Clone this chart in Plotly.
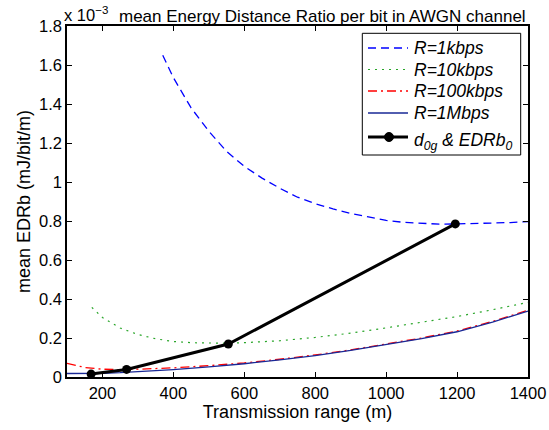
import plotly.graph_objects as go

# ---- data (EDRb in units of 1e-3 mJ/bit/m) ----
x_1k = [370, 400, 450, 500, 550, 600, 650, 700, 750, 800, 850, 900, 950, 1000,
        1050, 1100, 1150, 1200, 1250, 1300, 1350, 1400]
y_1k = [1.65, 1.535, 1.38, 1.26, 1.157, 1.08, 1.02, 0.968, 0.922, 0.889, 0.862,
        0.839, 0.821, 0.803, 0.793, 0.787, 0.784, 0.785, 0.787, 0.789, 0.792, 0.797]

x_10k = [170, 200, 250, 300, 350, 400, 450, 500, 550, 600, 700, 800, 900, 1000,
         1100, 1200, 1300, 1350, 1400]
y_10k = [0.357, 0.305, 0.251, 0.218, 0.196, 0.182, 0.176, 0.173, 0.173, 0.176,
         0.186, 0.203, 0.225, 0.252, 0.28, 0.31, 0.345, 0.363, 0.383]

x_100k = [100, 125, 150, 200, 250, 300, 400, 500, 600, 700, 800, 900, 1000,
          1100, 1200, 1300, 1400]
y_100k = [0.07, 0.058, 0.049, 0.04, 0.038, 0.04, 0.047, 0.058, 0.072, 0.091,
          0.113, 0.139, 0.168, 0.2, 0.236, 0.285, 0.342]

x_1M = [100, 150, 200, 250, 300, 400, 500, 600, 700, 800, 900, 1000, 1100,
        1200, 1300, 1350, 1400]
y_1M = [0.018, 0.017, 0.019, 0.022, 0.027, 0.038, 0.052, 0.068, 0.088, 0.11,
        0.136, 0.165, 0.197, 0.232, 0.281, 0.31, 0.338]

x_d0 = [168, 268, 555, 1195]
y_d0 = [0.015, 0.039, 0.169, 0.785]

series_names = ["<i>R=1kbps</i>", "<i>R=10kbps</i>", "<i>R=100kbps</i>",
                "<i>R=1Mbps</i>", "<i>d<sub>0g</sub> & EDRb<sub>0</sub></i>"]

x_ticks = [200, 400, 600, 800, 1000, 1200, 1400]
y_ticks = [0, 0.2, 0.4, 0.6, 0.8, 1.0, 1.2, 1.4, 1.6, 1.8]
y_ticktext = ["0", "0.2", "0.4", "0.6", "0.8", "1", "1.2", "1.4", "1.6", "1.8"]

FONT = "Liberation Sans, Arial, sans-serif"

styles = [
    dict(color="rgb(0,0,255)", width=1.3, dash="8px,5px"),
    dict(color="rgb(40,165,40)", width=1.2, dash="2px,5px"),
    dict(color="rgb(255,0,0)", width=1.3, dash="9px,4px,2px,4px"),
    dict(color="rgb(25,40,150)", width=1.3, dash="solid"),
    dict(color="black", width=3, dash="solid"),
]

fig = go.Figure()
for xs, ys, nm, st in zip([x_1k, x_10k, x_100k, x_1M], [y_1k, y_10k, y_100k, y_1M],
                          series_names[:4], styles[:4]):
    fig.add_trace(go.Scatter(x=xs, y=ys, mode="lines", name=nm, showlegend=False,
                             line=st))
fig.add_trace(go.Scatter(x=x_d0, y=y_d0, mode="lines+markers", name=series_names[4],
                         showlegend=False, line=styles[4],
                         marker=dict(color="black", size=9)))

axis_common = dict(showline=True, linecolor="black", linewidth=1.5, mirror="allticks",
                   ticks="inside", ticklen=5, tickcolor="black", tickwidth=1,
                   showgrid=False, zeroline=False, automargin=False,
                   tickfont=dict(family=FONT, size=16.5, color="black"))

fig.update_xaxes(range=[100, 1400], tickvals=x_ticks,
                 title=dict(text="Transmission range (m)", standoff=0,
                            font=dict(family=FONT, size=18, color="black")),
                 **axis_common)
fig.update_yaxes(range=[0, 1.8], tickvals=y_ticks, ticktext=y_ticktext,
                 title=dict(text="mean EDRb (mJ/bit/m)", standoff=4,
                            font=dict(family=FONT, size=18, color="black")),
                 **axis_common)

fig.add_annotation(text="x 10<sup>−3</sup>", xref="paper", yref="paper",
                   x=-0.01, y=1.0, xanchor="left", yanchor="bottom", showarrow=False,
                   font=dict(family=FONT, size=16.5, color="black"))
fig.add_annotation(text="mean Energy Distance Ratio per bit in AWGN channel",
                   xref="paper", yref="paper", x=1.0, y=0.995, xanchor="right",
                   yanchor="bottom", showarrow=False,
                   font=dict(family=FONT, size=17, color="black"))

# ---- legend box drawn in paper coordinates (plot area 67..528 x 26..377 px) ----
L, T, W, H = 67, 26, 461, 351
def px(xp):
    return (xp - L) / W
def py(yp):
    return (T + H - yp) / H

fig.add_shape(type="rect", xref="paper", yref="paper",
              x0=px(362.3), x1=px(520.7), y0=py(155), y1=py(33.3),
              line=dict(color="black", width=1), fillcolor="white", layer="above")
entry_y = [48, 69.5, 91, 113, 137]
for i, (nm, st, ey) in enumerate(zip(series_names, styles, entry_y)):
    fig.add_shape(type="line", xref="paper", yref="paper",
                  x0=px(368), x1=px(408), y0=py(ey), y1=py(ey),
                  line=st, layer="above")
    fig.add_annotation(text=nm, xref="paper", yref="paper",
                       x=px(412), y=py(ey + (4 if i == 4 else 0)),
                       xanchor="left", yanchor="middle", showarrow=False,
                       font=dict(family=FONT, size=17.5, color="black"))
fig.add_shape(type="circle", xref="paper", yref="paper",
              x0=px(384.5), x1=px(393.5), y0=py(entry_y[4] + 4.5), y1=py(entry_y[4] - 4.5),
              line=dict(color="black", width=1), fillcolor="black", layer="above")

fig.update_layout(
    width=549, height=430,
    margin=dict(l=67, r=21, t=26, b=53, autoexpand=False),
    paper_bgcolor="white", plot_bgcolor="white",
    font=dict(family=FONT, size=16, color="black"),
    showlegend=False,
)

fig.write_html("out.html")
